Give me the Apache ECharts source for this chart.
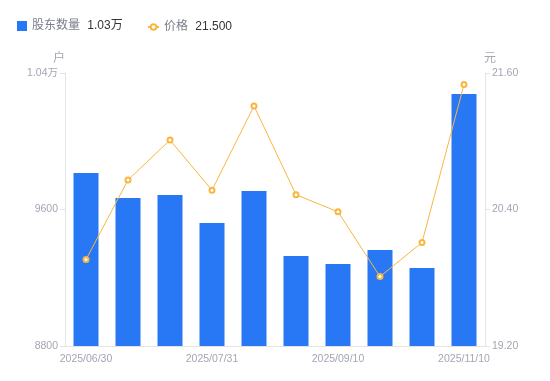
<!DOCTYPE html>
<html><head><meta charset="utf-8">
<script src="https://cdn.jsdelivr.net/npm/echarts@6/dist/echarts.min.js"></script>
<style>html,body{margin:0;padding:0;background:#fff}#c{width:550px;height:381px}</style>
</head><body><div id="c"></div>
<script>
const categories = ['2025/06/30','2025/07/10','2025/07/20','2025/07/31','2025/08/15','2025/08/29','2025/09/10','2025/09/30','2025/10/20','2025/11/10'];
const holders = [9814, 9667, 9685, 9521, 9708, 9327, 9281, 9363, 9257, 10277];
const prices = [19.96, 20.66, 21.01, 20.57, 21.31, 20.53, 20.38, 19.81, 20.11, 21.50];
const leftTicks = [8800, 10400, 800];
const rightTicks = [19.2, 21.6, 1.2];

const lastH = holders[holders.length - 1];
const lastP = prices[prices.length - 1];
const fmtH = v => v >= 10000 ? (v / 10000).toFixed(2) + '万' : String(v);
const legendText = { color: '#7a7e8a', fontSize: 12,
  rich: { v: { color: '#333', fontSize: 12, padding: [0, 0, 0, 4] } } };

const chart = echarts.init(document.getElementById('c'));
chart.setOption({
  animation: false,
  textStyle: { fontFamily: '"Liberation Sans", "Noto Sans CJK SC", sans-serif' },
  legend: [{
    left: 12, top: 15, itemWidth: 10, itemHeight: 10,
    textStyle: legendText,
    formatter: name => name + ' {v|' + fmtH(lastH) + '}',
    data: [{ name: '股东数量', icon: 'rect' }]
  }, {
    left: 142, top: 16, itemWidth: 11, itemHeight: 7,
    textStyle: legendText,
    formatter: name => name + ' {v|' + lastP.toFixed(3) + '}',
    data: [{ name: '价格' }]
  }],
  grid: { left: 65, right: 65, top: 73, bottom: 35 },
  xAxis: {
    type: 'category', data: categories,
    axisLine: { lineStyle: { color: '#e3e4e8' } },
    axisTick: { show: false },
    axisLabel: { interval: 2, color: '#a3a6b4', fontSize: 10.5, margin: 8 }
  },
  yAxis: [{
    type: 'value', name: '户', min: leftTicks[0], max: leftTicks[1], interval: leftTicks[2],
    nameTextStyle: { color: '#a3a6b4', fontSize: 12, padding: [0, 0, 0, -12] }, nameGap: 8,
    axisLine: { show: true, lineStyle: { color: '#e3e4e8' } },
    axisTick: { show: true, length: 5, lineStyle: { color: '#e3e4e8' } },
    splitLine: { show: false },
    axisLabel: { color: '#a3a6b4', fontSize: 10.5, margin: 7, formatter: fmtH }
  }, {
    type: 'value', name: '元', min: rightTicks[0], max: rightTicks[1], interval: rightTicks[2],
    nameTextStyle: { color: '#a3a6b4', fontSize: 12, padding: [0, 0, 0, 10] }, nameGap: 8,
    axisLine: { show: true, lineStyle: { color: '#e3e4e8' } },
    axisTick: { show: true, length: 5, lineStyle: { color: '#e3e4e8' } },
    splitLine: { show: false },
    axisLabel: { color: '#a3a6b4', fontSize: 10.5, margin: 7, formatter: v => v.toFixed(2) }
  }],
  series: [{
    name: '股东数量', type: 'bar', data: holders, barWidth: 25,
    itemStyle: { color: '#2878f5' }
  }, {
    name: '价格', type: 'line', yAxisIndex: 1, data: prices,
    symbol: 'emptyCircle', symbolSize: 5,
    lineStyle: { color: '#f7b73f', width: 1 },
    itemStyle: { color: '#f7b73f', borderWidth: 2 }
  }]
});
</script></body></html>
